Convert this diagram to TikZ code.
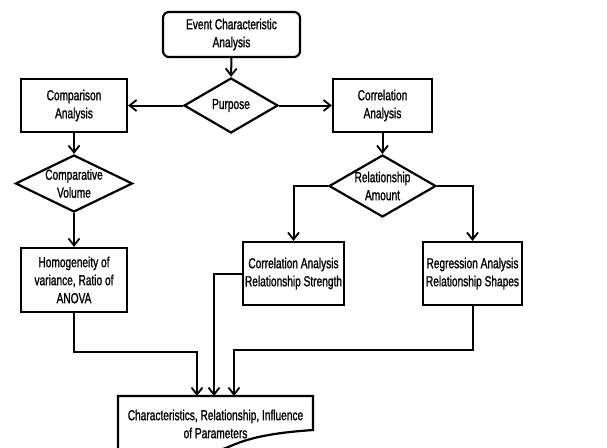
\documentclass[tikz,border=0pt]{standalone}
\usepackage{fontspec}
\setmainfont[FakeStretch=0.7,FakeBold=1.2]{Liberation Sans}
\usetikzlibrary{shapes.geometric,arrows.meta}
\begin{document}
\begin{tikzpicture}[x=1pt,y=-1pt,
  every node/.style={font=\fontsize{14.5}{18}\selectfont, align=center, inner sep=0pt},
  boxst/.style={draw, line width=2.2pt, minimum width=#1, minimum height=53},
  roundst/.style={draw, line width=2.2pt, rounded corners=6pt, minimum width=137, minimum height=45},
  diast/.style={draw, shape=diamond, line width=2.2pt, aspect=2},
  conn/.style={line width=2pt, -{Straight Barb[length=7pt,width=11pt,line width=1.8pt]}},
  plain/.style={line width=2pt}]
\useasboundingbox (0,0) rectangle (607,447);
\clip (0,0) rectangle (607,447);
\node[roundst] (top) at (231.5,34.5) {Event Characteristic\\Analysis};
\node[diast, minimum width=94, minimum height=55] (purpose) at (231,105.5) {Purpose};
\node[boxst=106] (comp) at (74,105.5) {Comparison\\Analysis};
\node[boxst=99] (corr) at (382.5,105.5) {Correlation\\Analysis};
\node[diast, inner sep=-4pt, minimum width=117, minimum height=57] (cvol) at (74,183.5) {Comparative\\Volume};
\node[diast, inner sep=-5pt, minimum width=107, minimum height=62] (ramt) at (382.5,186) {Relationship\\Amount};
\node[boxst=106, minimum height=64] (homog) at (74,280) {Homogeneity of\\variance, Ratio of\\ANOVA};
\node[boxst=101, minimum height=63] (cstr) at (293.5,273.5) {Correlation Analysis\\Relationship Strength};
\node[boxst=99, minimum height=63] (regr) at (472.5,273.5) {Regression Analysis\\Relationship Shapes};
\node[minimum width=195, minimum height=40] (doc) at (215.5,424) {Characteristics, Relationship, Influence\\of Parameters};
\draw[line width=2.2pt, line join=miter] (118,470) -- (118,396) -- (313,396) -- (313,430)
  .. controls (270,433) and (250,438) .. (233,445) .. controls (200,460) and (150,462) .. (118,458);
\coordinate (d1) at (197,396);
\coordinate (d2) at (214,396);
\coordinate (d3) at (234,396);
\coordinate (j1) at (197,352);
\coordinate (j3) at (234,350);
\draw[conn] (top.south) -- (purpose.north);
\draw[conn] (purpose.west) -- (comp.east);
\draw[conn] (purpose.east) -- (corr.west);
\draw[conn] (comp.south) -- (cvol.north);
\draw[conn] (cvol.south) -- (homog.north);
\draw[conn] (corr.south) -- (ramt.north);
\draw[conn] (ramt.west) -| (cstr.north);
\draw[conn] (ramt.east) -| (regr.north);
\draw[conn] (homog.south) |- (j1) -- (d1);
\draw[conn] (cstr.west) -| (d2);
\draw[conn] (regr.south) |- (j3) -- (d3);
\end{tikzpicture}
\end{document}
